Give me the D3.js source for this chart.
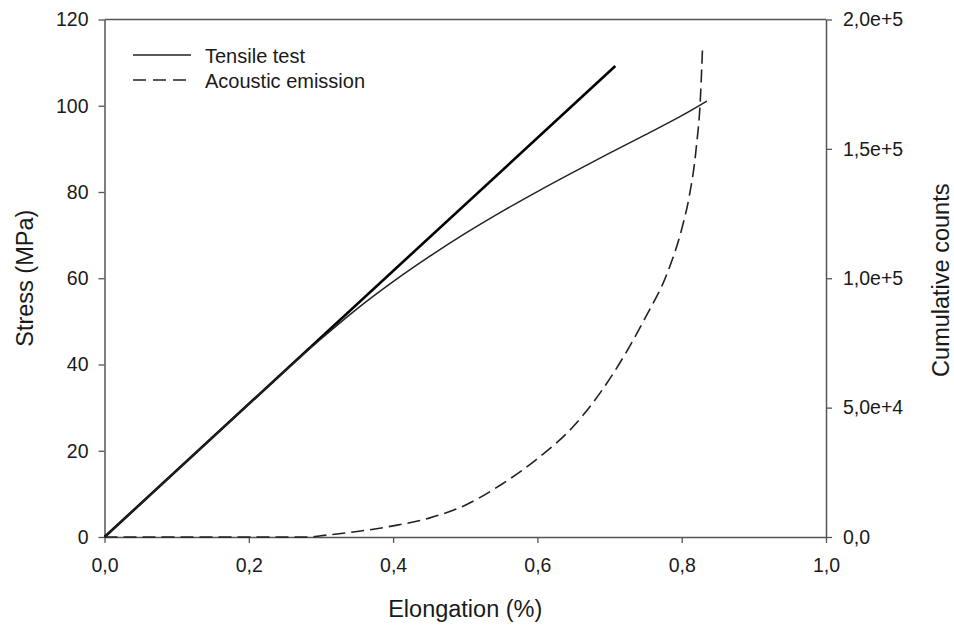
<!DOCTYPE html>
<html>
<head>
<meta charset="utf-8">
<script src="https://cdn.jsdelivr.net/npm/d3@7"></script>
<style>
  body { margin: 0; background: #fff; }
  svg { font-family: "Liberation Sans", Arial, sans-serif; }
</style>
</head>
<body>
<svg id="chart" width="954" height="628"></svg>
<script>
// tensile test curve (elongation %, stress MPa)
const tensileX = [0, 0.1, 0.2, 0.25, 0.3, 0.35, 0.4, 0.45, 0.5, 0.55, 0.6, 0.65, 0.7, 0.75, 0.8, 0.835];
const tensileY = [0, 15.4, 30.8, 38.5, 45.9, 52.9, 59.2, 65.0, 70.4, 75.4, 80.1, 84.6, 89.0, 93.3, 97.7, 101.1];

// linear (elastic) fit
const fitX = [0, 0.708];
const fitY = [0, 109.2];

// acoustic emission cumulative counts
const aeX = [0, 0.2, 0.285, 0.3, 0.35, 0.4, 0.45, 0.5, 0.55, 0.6, 0.65, 0.7, 0.75, 0.78, 0.8, 0.81, 0.82, 0.826, 0.829];
const aeY = [0, 0, 0, 500, 2100, 4300, 7300, 12300, 20300, 30300, 42800, 61000, 85000, 102000, 119000, 131000, 150000, 170000, 190000];

const xTicks = [0, 0.2, 0.4, 0.6, 0.8, 1.0];
const yTicks = [0, 20, 40, 60, 80, 100, 120];
const y2Ticks = [0, 50000, 100000, 150000, 200000];

const legendNames = ["Tensile test", "Acoustic emission"];

const svg = d3.select("#chart");
const margin = { left: 104.5, right: 128, top: 19.5, bottom: 91 };
const W = 954, H = 628;

const x = d3.scaleLinear().domain([0, 1]).range([margin.left, W - margin.right]);
const y = d3.scaleLinear().domain([0, 120]).range([H - margin.bottom, margin.top]);
const y2 = d3.scaleLinear().domain([0, 200000]).range([H - margin.bottom, margin.top]);

const comma = (s) => s.replace(".", ",");
const axisColor = "#555";
const textColor = "#1a1a1a";

// frame top
svg.append("line")
  .attr("x1", x(0)).attr("x2", x(1))
  .attr("y1", y(120)).attr("y2", y(120))
  .attr("stroke", axisColor).attr("stroke-width", 1.5);

function styleAxis(g) {
  g.selectAll(".domain").attr("stroke", axisColor).attr("stroke-width", 1.5);
  g.selectAll(".tick line").attr("stroke", axisColor).attr("stroke-width", 1.3);
  g.selectAll(".tick text").attr("fill", textColor).attr("font-size", 19.5)
    .attr("font-family", "Liberation Sans, Arial, sans-serif");
}

svg.append("g")
  .attr("transform", `translate(0,${y(0)})`)
  .call(d3.axisBottom(x).tickValues(xTicks).tickSize(6).tickSizeOuter(0)
    .tickPadding(15).tickFormat(d => comma(d3.format(".1f")(d))))
  .call(styleAxis);

svg.append("g")
  .attr("transform", `translate(${x(0)},0)`)
  .call(d3.axisLeft(y).tickValues(yTicks).tickSize(6).tickSizeOuter(0)
    .tickPadding(10).tickFormat(d3.format("d")))
  .call(styleAxis);

svg.append("g")
  .attr("transform", `translate(${x(1)},0)`)
  .call(d3.axisRight(y2).tickValues(y2Ticks).tickSize(6).tickSizeOuter(0)
    .tickPadding(11).tickFormat(d => d === 0 ? "0,0" : comma(d3.format(".1e")(d))))
  .call(styleAxis);

const line = d3.line().curve(d3.curveMonotoneX);

// thick linear fit
svg.append("path")
  .attr("d", line(fitX.map((v, i) => [x(v), y(fitY[i])])))
  .attr("fill", "none").attr("stroke", "#000").attr("stroke-width", 2.6);

// tensile curve
svg.append("path")
  .attr("d", line(tensileX.map((v, i) => [x(v), y(tensileY[i])])))
  .attr("fill", "none").attr("stroke", "#222").attr("stroke-width", 1.5);

// acoustic emission
svg.append("path")
  .attr("d", line(aeX.map((v, i) => [x(v), y2(aeY[i])])))
  .attr("fill", "none").attr("stroke", "#222").attr("stroke-width", 1.6)
  .attr("stroke-dasharray", "13,6");

// legend
const leg = svg.append("g");
legendNames.forEach((name, i) => {
  const ly = 55 + i * 25;
  leg.append("line")
    .attr("x1", 133).attr("x2", 191).attr("y1", ly).attr("y2", ly)
    .attr("stroke", "#222").attr("stroke-width", 1.5)
    .attr("stroke-dasharray", i === 1 ? "13,7" : null);
  leg.append("text")
    .attr("x", 205).attr("y", ly + 7.5)
    .attr("font-size", 20).attr("fill", textColor)
    .text(name);
});

// axis titles
svg.append("text")
  .attr("x", (x(0) + x(1)) / 2).attr("y", 617)
  .attr("text-anchor", "middle").attr("font-size", 23.5).attr("fill", textColor)
  .text("Elongation (%)");

svg.append("text")
  .attr("transform", `translate(33,${(y(0) + y(120)) / 2}) rotate(-90)`)
  .attr("text-anchor", "middle").attr("font-size", 23.5).attr("fill", textColor)
  .text("Stress (MPa)");

svg.append("text")
  .attr("transform", `translate(949,${(y(0) + y(120)) / 2 + 2}) rotate(-90)`)
  .attr("text-anchor", "middle").attr("font-size", 23.5).attr("fill", textColor)
  .text("Cumulative counts");
</script>
</body>
</html>
